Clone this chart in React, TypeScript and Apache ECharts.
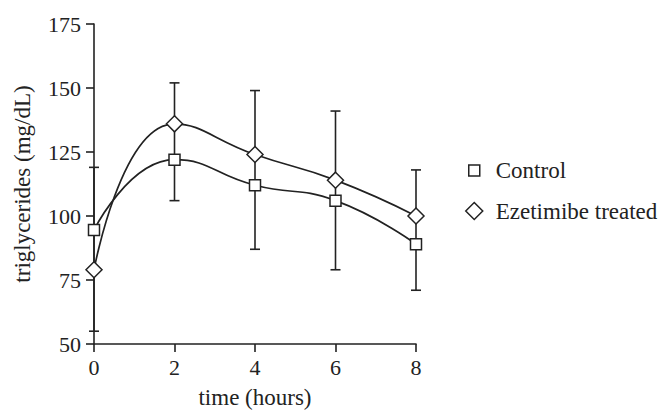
import React, { useEffect, useRef } from "react";
import * as echarts from "echarts";

const times = [0, 2, 4, 6, 8];
const control = [94.5, 122, 112, 106, 89];
const ezetimibe = [79, 136, 124, 114, 100];
const errLow = [55, 106, 87, 79, 71];
const errHigh = [119, 152, 149, 141, 118];
const seriesNames = ["Control", "Ezetimibe treated"];

const INK = "#222222";
const FONT = "Liberation Serif";

export default function App() {
  const ref = useRef<HTMLDivElement>(null);
  useEffect(() => {
    if (!ref.current) return;
    const chart = echarts.init(ref.current, undefined, { renderer: "svg" });
    const errData = times.map((t, i) => [t, errLow[i], errHigh[i]]);
    chart.setOption({
      animation: false,
      backgroundColor: "#ffffff",
      grid: {
        left: 94,
        top: 24,
        width: 322,
        height: 320,
        containLabel: false,
        outerBoundsMode: "none",
      },
      xAxis: {
        type: "value",
        min: 0,
        max: 8,
        interval: 2,
        name: "time (hours)",
        nameLocation: "middle",
        nameGap: 42,
        nameTextStyle: { fontFamily: FONT, fontSize: 23, lineHeight: 23, color: INK },
        axisLine: { show: true, lineStyle: { color: INK, width: 1.6 } },
        axisTick: { show: true, length: 8, lineStyle: { color: INK, width: 1.6 } },
        axisLabel: { fontFamily: FONT, fontSize: 22, color: INK, margin: 12 },
        splitLine: { show: false },
      },
      yAxis: {
        type: "value",
        min: 50,
        max: 175,
        interval: 25,
        name: "triglycerides (mg/dL)",
        nameLocation: "middle",
        nameRotate: 90,
        nameGap: 60,
        nameTextStyle: { fontFamily: FONT, fontSize: 23, color: INK },
        axisLine: { show: true, lineStyle: { color: INK, width: 1.6 } },
        axisTick: { show: true, length: 8, lineStyle: { color: INK, width: 1.6 } },
        axisLabel: { fontFamily: FONT, fontSize: 22, color: INK, margin: 13 },
        splitLine: { show: false },
      },
      legend: [
        {
          data: [seriesNames[0]],
          orient: "vertical",
          left: 468,
          top: 158.5,
          padding: 0,
          itemWidth: 11,
          itemHeight: 11,
          icon: "rect",
          itemStyle: { color: "#fff", borderColor: INK, borderWidth: 1.5 },
          textStyle: {
            fontFamily: FONT,
            fontSize: 23,
            color: INK,
            lineHeight: 24,
            padding: [0, 0, 0, 11],
          },
        },
        {
          data: [seriesNames[1]],
          orient: "vertical",
          left: 465,
          top: 199,
          padding: 0,
          itemWidth: 17,
          itemHeight: 17,
          icon: "diamond",
          itemStyle: { color: "#fff", borderColor: INK, borderWidth: 1.5 },
          textStyle: {
            fontFamily: FONT,
            fontSize: 23,
            color: INK,
            lineHeight: 24,
            padding: [0, 0, 0, 8],
          },
        },
      ],
      series: [
        {
          type: "custom",
          name: "error",
          z: 1,
          data: errData,
          silent: true,
          renderItem: (params: any, api: any) => {
            const x = api.value(0);
            const lo = api.coord([x, api.value(1)]);
            const hi = api.coord([x, api.value(2)]);
            const hw = 5;
            const style = { stroke: INK, lineWidth: 1.6, fill: "none" };
            return {
              type: "group",
              children: [
                { type: "line", shape: { x1: lo[0], y1: lo[1], x2: hi[0], y2: hi[1] }, style },
                { type: "line", shape: { x1: lo[0] - hw, y1: lo[1], x2: lo[0] + hw, y2: lo[1] }, style },
                { type: "line", shape: { x1: hi[0] - hw, y1: hi[1], x2: hi[0] + hw, y2: hi[1] }, style },
              ],
            };
          },
        },
        {
          type: "line",
          name: seriesNames[0],
          z: 3,
          data: times.map((t, i) => [t, control[i]]),
          smooth: 0.5,
          symbol: "rect",
          symbolSize: 11,
          showAllSymbol: true,
          lineStyle: { color: INK, width: 1.7 },
          itemStyle: { color: "#fff", borderColor: INK, borderWidth: 1.5 },
        },
        {
          type: "line",
          name: seriesNames[1],
          z: 3,
          data: times.map((t, i) => [t, ezetimibe[i]]),
          smooth: 0.5,
          symbol: "diamond",
          symbolSize: 16,
          showAllSymbol: true,
          lineStyle: { color: INK, width: 1.7 },
          itemStyle: { color: "#fff", borderColor: INK, borderWidth: 1.5 },
        },
      ],
    });
    return () => chart.dispose();
  }, []);
  return (
    <div
      ref={ref}
      style={{ position: "absolute", left: 0, top: 0, width: 666, height: 410 }}
    />
  );
}
